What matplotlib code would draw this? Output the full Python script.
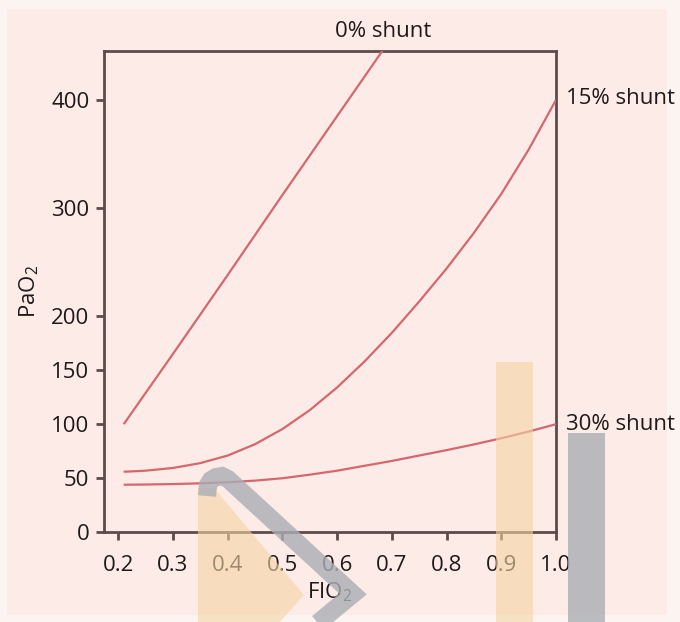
import matplotlib
matplotlib.use("Agg")
import matplotlib.pyplot as plt
import matplotlib.transforms as mtransforms
from matplotlib.patches import Rectangle, Polygon
from matplotlib.lines import Line2D

plt.rcParams['font.family'] = ['Open Sans', 'DejaVu Sans']
plt.rcParams['mathtext.fontset'] = 'custom'
plt.rcParams['mathtext.rm'] = 'Open Sans'

# Inspired oxygen fraction and arterial PO2 for three shunt fractions
fio2_0 = [0.21, 0.30, 0.40, 0.50, 0.60, 0.685]
pao2_0 = [100, 165, 238, 312, 385, 447]

fio2_15 = [0.21, 0.25, 0.30, 0.35, 0.40, 0.45, 0.50, 0.55, 0.60,
           0.65, 0.70, 0.75, 0.80, 0.85, 0.90, 0.95, 1.00]
pao2_15 = [56, 57, 59.5, 64, 71, 81.5, 95.5, 113, 134,
           158, 184.5, 213.5, 244, 277, 313, 354, 400]

fio2_30 = [0.21, 0.25, 0.30, 0.35, 0.40, 0.45, 0.50, 0.55, 0.60,
           0.65, 0.70, 0.75, 0.80, 0.85, 0.90, 0.95, 1.00]
pao2_30 = [44, 44.2, 44.6, 45.3, 46.3, 47.8, 50, 53.3, 57,
           61.5, 66, 71, 76, 81.3, 87, 93.2, 100]

curve_labels = ["0% shunt", "15% shunt", "30% shunt"]
x_ticks = [0.2, 0.3, 0.4, 0.5, 0.6, 0.7, 0.8, 0.9, 1.0]
x_ticklabels = ["0.2", "0.3", "0.4", "0.5", "0.6", "0.7", "0.8", "0.9", "1.0"]
y_ticks = [0, 50, 100, 150, 200, 300, 400]

W, H = 680, 622
fig = plt.figure(figsize=(W / 100, H / 100), dpi=100)
fig.patch.set_facecolor('#fbf4f1')

# pixel-based transform (origin top-left) for the page decorations
px = mtransforms.Affine2D().scale(1 / W, -1 / H).translate(0, 1) + fig.transFigure

pink = '#fdebe7'
fig.patches.append(Rectangle((7, 9), 660, 606, transform=px, facecolor=pink,
                             edgecolor='none', zorder=-5))

ax = fig.add_axes([104 / W, 1 - 532.3 / H, (556 - 104) / W, (532.3 - 50.7) / H])
ax.set_facecolor(pink)
ax.set_zorder(1)

line_kw = dict(color='#d4676f', lw=1.6, solid_capstyle='butt',
               solid_joinstyle='round', zorder=3)
ax.plot(fio2_0, pao2_0, **line_kw)
ax.plot(fio2_15, pao2_15, **line_kw)
ax.plot(fio2_30, pao2_30, clip_on=False, **line_kw)

ax.set_xlim(0.174, 1.0)
ax.set_ylim(0, 445.5)
ax.set_xticks(x_ticks)
ax.set_xticklabels(x_ticklabels)
ax.set_yticks(y_ticks)

txt_c = '#1e1a1a'
fs = 16
spine_c = '#5b4b49'
for s in ax.spines.values():
    s.set_color(spine_c)
    s.set_linewidth(2.0)
ax.tick_params(direction='out', length=5.5, width=2.0, color=spine_c,
               labelsize=fs, labelcolor=txt_c)
ax.tick_params(axis='x', pad=11)
ax.tick_params(axis='y', pad=5)

ax.set_xlabel(r"FIO$_\mathregular{2}$", fontsize=fs, color=txt_c, labelpad=3)
ax.set_ylabel(r"PaO$_\mathregular{2}$", fontsize=fs, color=txt_c, labelpad=7)

# curve labels
ax.text(fio2_0[-1], 1.04, curve_labels[0], transform=ax.get_xaxis_transform(),
        ha='center', va='center', fontsize=fs, color=txt_c)
ax.annotate(curve_labels[1], xy=(fio2_15[-1], pao2_15[-1]), xytext=(7, 1),
            textcoords='offset points', ha='left', va='center', fontsize=fs,
            color=txt_c, annotation_clip=False)
ax.annotate(curve_labels[2], xy=(fio2_30[-1], pao2_30[-1]), xytext=(7, 0),
            textcoords='offset points', ha='left', va='center', fontsize=fs,
            color=txt_c, annotation_clip=False)

# translucent page decorations drawn on top
orange = '#f3d5a3'
grey = '#aaaeb4'
fig.patches.append(Rectangle((496, 362), 37, 262, transform=px, facecolor=orange,
                             edgecolor='none', alpha=0.6, zorder=10))
fig.patches.append(Rectangle((568, 433), 37, 191, transform=px, facecolor=grey,
                             edgecolor='none', alpha=0.8, zorder=10))
fig.patches.append(Polygon([(198, 488), (214, 488), (304, 595), (278, 624), (198, 624)],
                           closed=True, transform=px, facecolor=orange,
                           edgecolor='none', alpha=0.6, zorder=10))
fig.lines.append(Line2D([207, 208, 211, 216, 222, 228, 353, 313],
                        [496, 485, 480, 477, 476, 479, 594, 627],
                        transform=px, color=grey, lw=13, alpha=0.8,
                        solid_joinstyle='miter', solid_capstyle='butt', zorder=11))

fig.savefig('out.png', dpi=100, facecolor=fig.get_facecolor())
